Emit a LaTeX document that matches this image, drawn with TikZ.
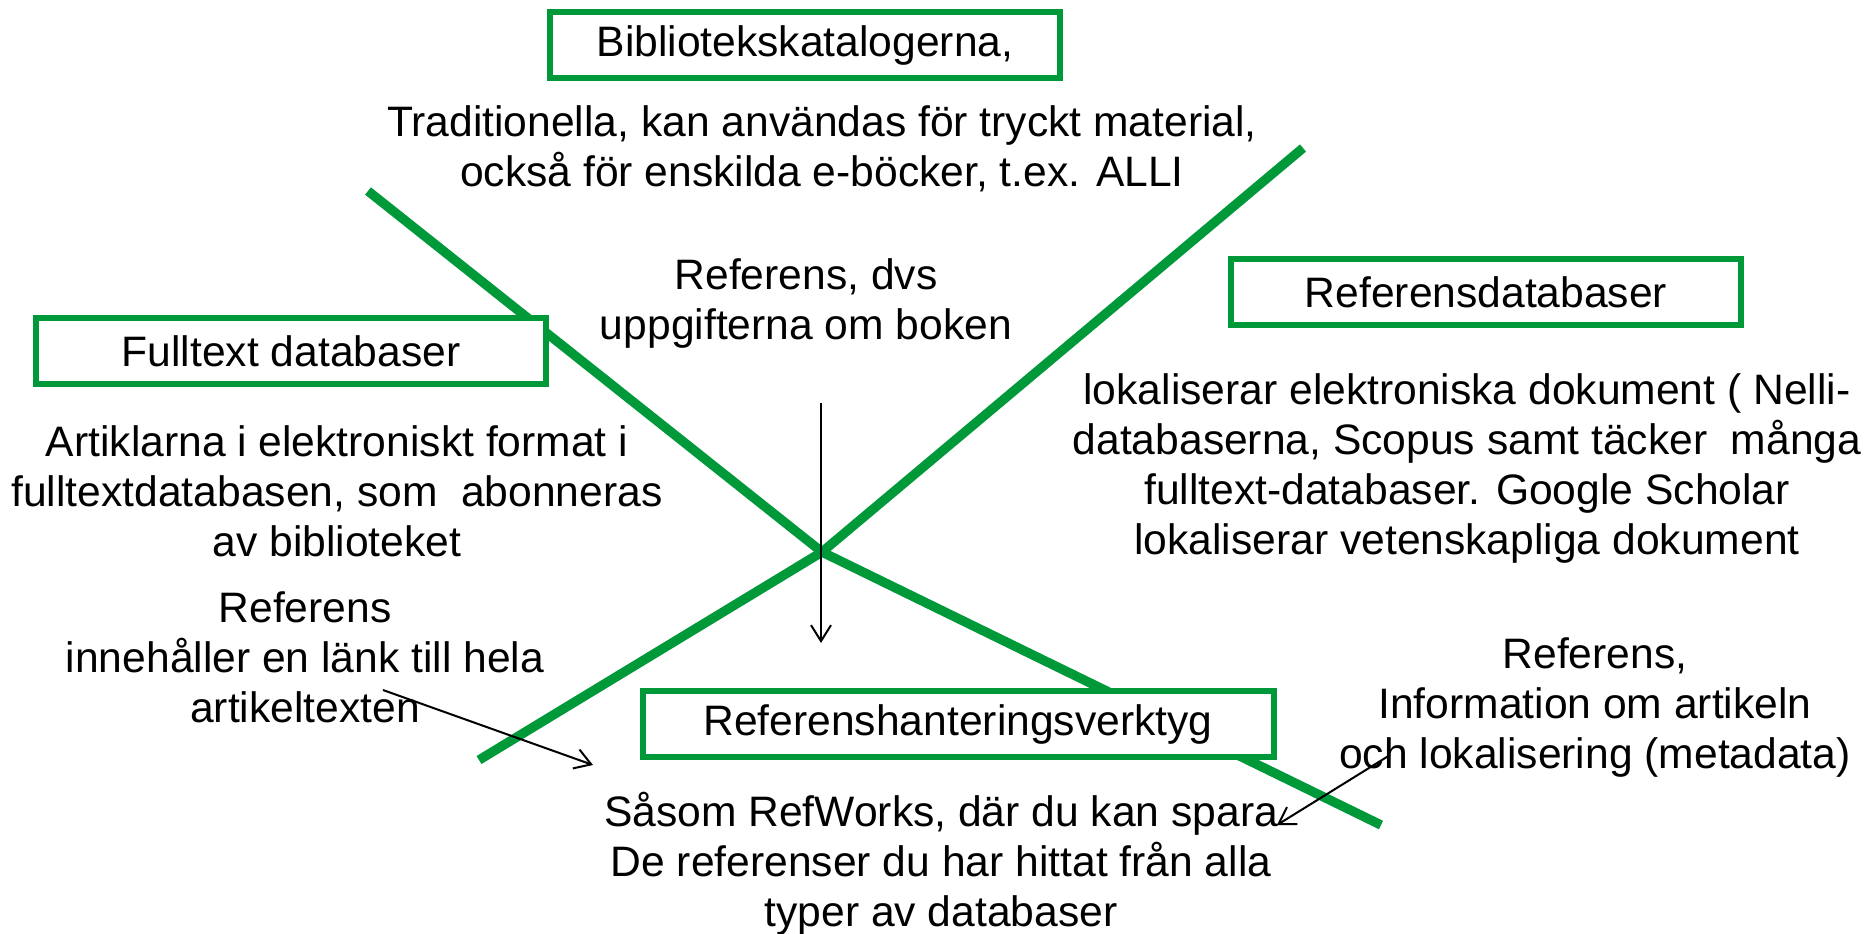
\documentclass[tikz,border=0pt]{standalone}
\usepackage{fontspec}
\setmainfont{Liberation Sans}
\usepackage{xcolor}
\usetikzlibrary{arrows.meta}
\definecolor{katgreen}{RGB}{0,153,57}

\begin{document}
\begin{tikzpicture}[x=0.5pt,y=-0.5pt,font=\fontsize{21.3}{25}\selectfont,>={Straight Barb[length=8pt,width=10pt]},
  box/.style={draw=katgreen,line width=3pt,fill=white,minimum width=255pt,minimum height=33pt,inner sep=0pt},
  txt/.style={align=center,inner sep=0pt},
  greenline/.style={katgreen,line width=4.7pt}]
  \useasboundingbox (0,0) rectangle (1875,933);
  % the bent cross
  \coordinate (mid) at (822,552);
  \coordinate (ul) at (368,191);
  \coordinate (ur) at (1303,148);
  \coordinate (ll) at (479,760);
  \coordinate (lr) at (1381,825);
  \draw[greenline] (ul) -- (mid);
  \draw[greenline] (ur) -- (mid);
  \draw[greenline] (ll) -- (mid);
  \draw[greenline] (lr) -- (mid);
  % boxes
  \node[box] (bib) at (805,45) {Bibliotekskatalogerna,};
  \node[box] (full) at (291,351) {Fulltext databaser};
  \node[box] (refdb) at (1486,292) {Referensdatabaser};
  \node[box,minimum width=315.5pt] (hant) at (958,724) {Referenshanteringsverktyg};
  % texts
  \node[txt] (trad) at (822,149) {Traditionella, kan användas för tryckt material,\\ också för enskilda e-böcker, t.ex. ALLI};
  \node[txt] (bok) at (806,303) {Referens, dvs\\ uppgifterna om boken};
  \node[txt] (art) at (337,491) {Artiklarna i elektroniskt format i\\ fulltextdatabasen, som~ abonneras\\ av biblioteket};
  \node[txt] (lank) at (305,657) {Referens\\ innehåller en länk till hela\\ artikeltexten};
  \node[txt] (lok) at (1467,468) {lokaliserar elektroniska dokument ( Nelli-\\ databaserna, Scopus samt täcker~ många\\ fulltext-databaser. Google Scholar\\ lokaliserar vetenskapliga dokument};
  \node[txt] (meta) at (1595,707) {Referens,\\ Information om artikeln\\ och lokalisering (metadata)};
  \node[txt] (spara) at (941,864) {Såsom RefWorks, där du kan spara\\ De referenser du har hittat från alla\\ typer av databaser};
  % arrows
  \coordinate (bokA) at (821,403);
  \coordinate (bokB) at (821,643);
  \coordinate (lankA) at (383,690);
  \coordinate (lankB) at (593,765);
  \coordinate (metaA) at (1390,755);
  \coordinate (metaB) at (1277,825);
  \draw[->,line width=1pt] (bokA) -- (bokB);
  \draw[->,line width=1pt] (lankA) -- (lankB);
  \draw[->,line width=1pt] (metaA) -- (metaB);
\end{tikzpicture}
\end{document}
